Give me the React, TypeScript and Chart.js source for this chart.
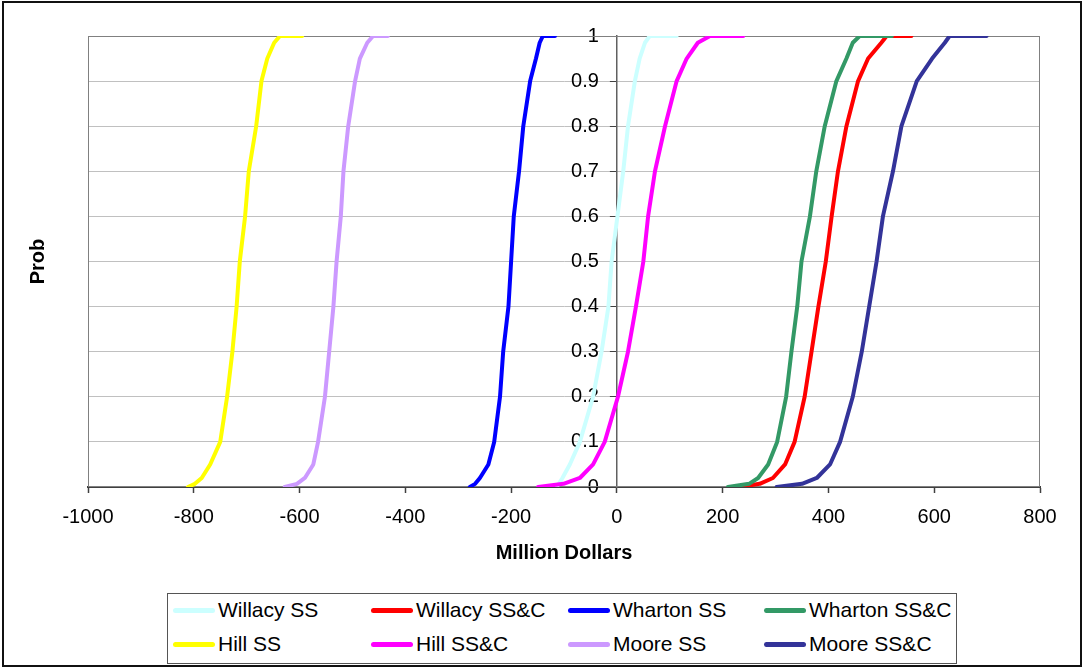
import React, { useEffect, useRef } from "react";
import { Chart, registerables } from "chart.js";

Chart.register(...registerables);

// Cumulative probability levels (shared by all series; last two points form the top plateau)
const PROB = [0, 0.007, 0.02, 0.05, 0.1, 0.2, 0.3, 0.4, 0.5, 0.6, 0.7, 0.8, 0.9, 0.95, 0.985, 1, 1];

// Million-dollar values at each probability level
const willacySS = [-114, -110, -103, -89, -70, -45, -29, -16, -10, 1, 12, 21, 34, 43, 53, 62, 113];
const willacySSC = [232, 270, 295, 318, 336, 355, 368, 381, 395, 406, 418, 434, 456, 475, 500, 510, 557];
const whartonSS = [-278, -268, -259, -243, -232, -221, -215, -205, -200, -195, -185, -177, -164, -153, -146, -140, -117];
const whartonSSC = [210, 250, 267, 286, 303, 320, 330, 341, 349, 365, 377, 393, 415, 434, 446, 459, 520];
const hillSS = [-811, -798, -785, -769, -750, -737, -727, -719, -713, -703, -696, -682, -672, -661, -648, -637, -595];
const hillSSC = [-149, -101, -70, -45, -23, 2, 21, 36, 50, 59, 72, 91, 113, 132, 153, 176, 239];
const mooreSS = [-628, -605, -590, -574, -565, -552, -544, -536, -530, -522, -517, -508, -495, -486, -472, -461, -433];
const mooreSSC = [302, 350, 378, 403, 422, 446, 463, 477, 491, 503, 522, 538, 567, 596, 620, 629, 699];

const SERIES_NAMES = [
  "Willacy SS",
  "Willacy SS&C",
  "Wharton SS",
  "Wharton SS&C",
  "Hill SS",
  "Hill SS&C",
  "Moore SS",
  "Moore SS&C",
];
const SERIES_COLORS = [
  "#ccffff",
  "#ff0000",
  "#0000ff",
  "#339966",
  "#ffff00",
  "#ff00ff",
  "#cc99ff",
  "#333399",
];

const X_MIN = -1000;
const X_MAX = 800;
const X_STEP = 200;
const Y_MIN = 0;
const Y_MAX = 1;
const Y_STEP = 0.1;
const Y_AXIS_CROSS_X = 0;

const X_TITLE = "Million Dollars";
const Y_TITLE = "Prob";

const FONT = '"Liberation Sans", Arial, Helvetica, sans-serif';

export default function App() {
  const canvasRef = useRef<HTMLCanvasElement | null>(null);

  useEffect(() => {
    if (!canvasRef.current) return;
    const seriesX = [willacySS, willacySSC, whartonSS, whartonSSC, hillSS, hillSSC, mooreSS, mooreSSC];
    const datasets = SERIES_NAMES.map((name, i) => ({
      label: name,
      data: seriesX[i].map((x, j) => ({ x, y: PROB[j] })),
      borderColor: SERIES_COLORS[i],
      backgroundColor: SERIES_COLORS[i],
      borderWidth: 4,
      pointRadius: 0,
      pointHoverRadius: 0,
      tension: 0,
      fill: false,
      borderJoinStyle: "round" as const,
      borderCapStyle: "round" as const,
      xAxisID: "x",
      yAxisID: "y",
      order: -i,
    }));

    const plotBorder = {
      id: "plotBorder",
      beforeDatasetsDraw(chart: any) {
        const { ctx, chartArea: a } = chart;
        ctx.save();
        ctx.strokeStyle = "#808080";
        ctx.lineWidth = 1;
        ctx.strokeRect(a.left + 0.5, a.top + 0.5, a.right - a.left - 1, a.bottom - a.top - 1);
        ctx.restore();
      },
    };

    // Move the value axis so that it crosses the category axis at x = 0 (Excel style)
    const axisCross = {
      id: "axisCross",
      afterLayout(chart: any) {
        const ys = chart.scales.y;
        const px = chart.scales.x.getPixelForValue(Y_AXIS_CROSS_X);
        ys.right = px;
        ys.left = px - 90;
      },
    };

    const chart = new Chart(canvasRef.current, {
      type: "line",
      data: { datasets },
      plugins: [plotBorder, axisCross],
      options: {
        animation: false,
        responsive: false,
        font: { family: FONT },
        color: "#000",
        layout: { padding: { left: 26, right: 43, top: 36, bottom: 104 } },
        plugins: {
          legend: { display: false },
          tooltip: { enabled: false },
          title: { display: false },
        },
        scales: {
          x: {
            type: "linear",
            position: "bottom",
            min: X_MIN,
            max: X_MAX,
            ticks: {
              stepSize: X_STEP,
              font: { family: FONT, size: 20 },
              color: "#000",
              padding: 12,
              maxRotation: 0,
              autoSkip: false,
              callback: (v: any) => String(v),
            },
            grid: {
              display: true,
              drawOnChartArea: false,
              drawTicks: true,
              tickLength: 6,
              tickColor: "#404040",
              tickWidth: 1.5,
            },
            border: { display: true, color: "#404040", width: 2 },
            title: {
              display: true,
              text: X_TITLE,
              font: { family: FONT, size: 20, weight: "bold" },
              color: "#000",
              padding: { top: 0, bottom: 0 },
            },
          },
          y: {
            type: "linear",
            position: "left",
            min: Y_MIN,
            max: Y_MAX,
            afterFit: (scale: any) => {
              scale.width = 0;
            },
            ticks: {
              stepSize: Y_STEP,
              font: { family: FONT, size: 20 },
              color: "#000",
              padding: 11,
              callback: (v: any) => String(Math.round(Number(v) * 10) / 10),
            },
            grid: {
              color: (ctx: any) =>
                ctx.tick && ctx.tick.value === 0
                  ? "rgba(0,0,0,0)"
                  : ctx.tick && ctx.tick.value === 1
                  ? "#808080"
                  : "#c0c0c0",
              lineWidth: 1,
              drawTicks: true,
              tickLength: 7,
              tickColor: "#404040",
            },
            border: { display: true, color: "#606060", width: 1.5 },
            title: { display: false },
          },
          yTitle: {
            type: "linear",
            position: "left",
            display: true,
            min: 0,
            max: 1,
            ticks: { display: false },
            grid: { display: false, drawTicks: false },
            border: { display: false },
            title: {
              display: true,
              text: Y_TITLE,
              font: { family: FONT, size: 20, weight: "bold" },
              color: "#000",
              padding: { top: 0, bottom: 38 },
            },
          },
        },
      } as any,
    });
    return () => chart.destroy();
  }, []);

  const colX = [173, 371, 568, 764];
  const rowY = [610, 644];

  return (
    <div style={{ position: "absolute", left: 0, top: 0, width: 1083, height: 669, background: "#fff" }}>
      <canvas ref={canvasRef} width={1083} height={669} style={{ position: "absolute", left: 0, top: 0 }} />
      <div
        style={{
          position: "absolute",
          left: 2,
          top: 1,
          width: 1080,
          height: 666,
          boxSizing: "border-box",
          border: "2px solid #111",
          pointerEvents: "none",
        }}
      />
      <div
        style={{
          position: "absolute",
          left: 167,
          top: 593,
          width: 790,
          height: 71,
          boxSizing: "border-box",
          border: "1.5px solid #555",
          background: "#fff",
        }}
      />
      {SERIES_NAMES.map((name, i) => {
        const col = i % 4;
        const row = Math.floor(i / 4);
        return (
          <div
            key={name}
            style={{
              position: "absolute",
              left: colX[col],
              top: rowY[row] - 12,
              height: 24,
              display: "flex",
              alignItems: "center",
              whiteSpace: "nowrap",
              fontFamily: FONT,
              fontSize: 21,
              color: "#000",
              lineHeight: "24px",
            }}
          >
            <span
              style={{
                display: "inline-block",
                width: 42,
                height: 5,
                borderRadius: 3,
                background: SERIES_COLORS[i],
                marginRight: 3,
              }}
            />
            <span>{name}</span>
          </div>
        );
      })}
    </div>
  );
}
